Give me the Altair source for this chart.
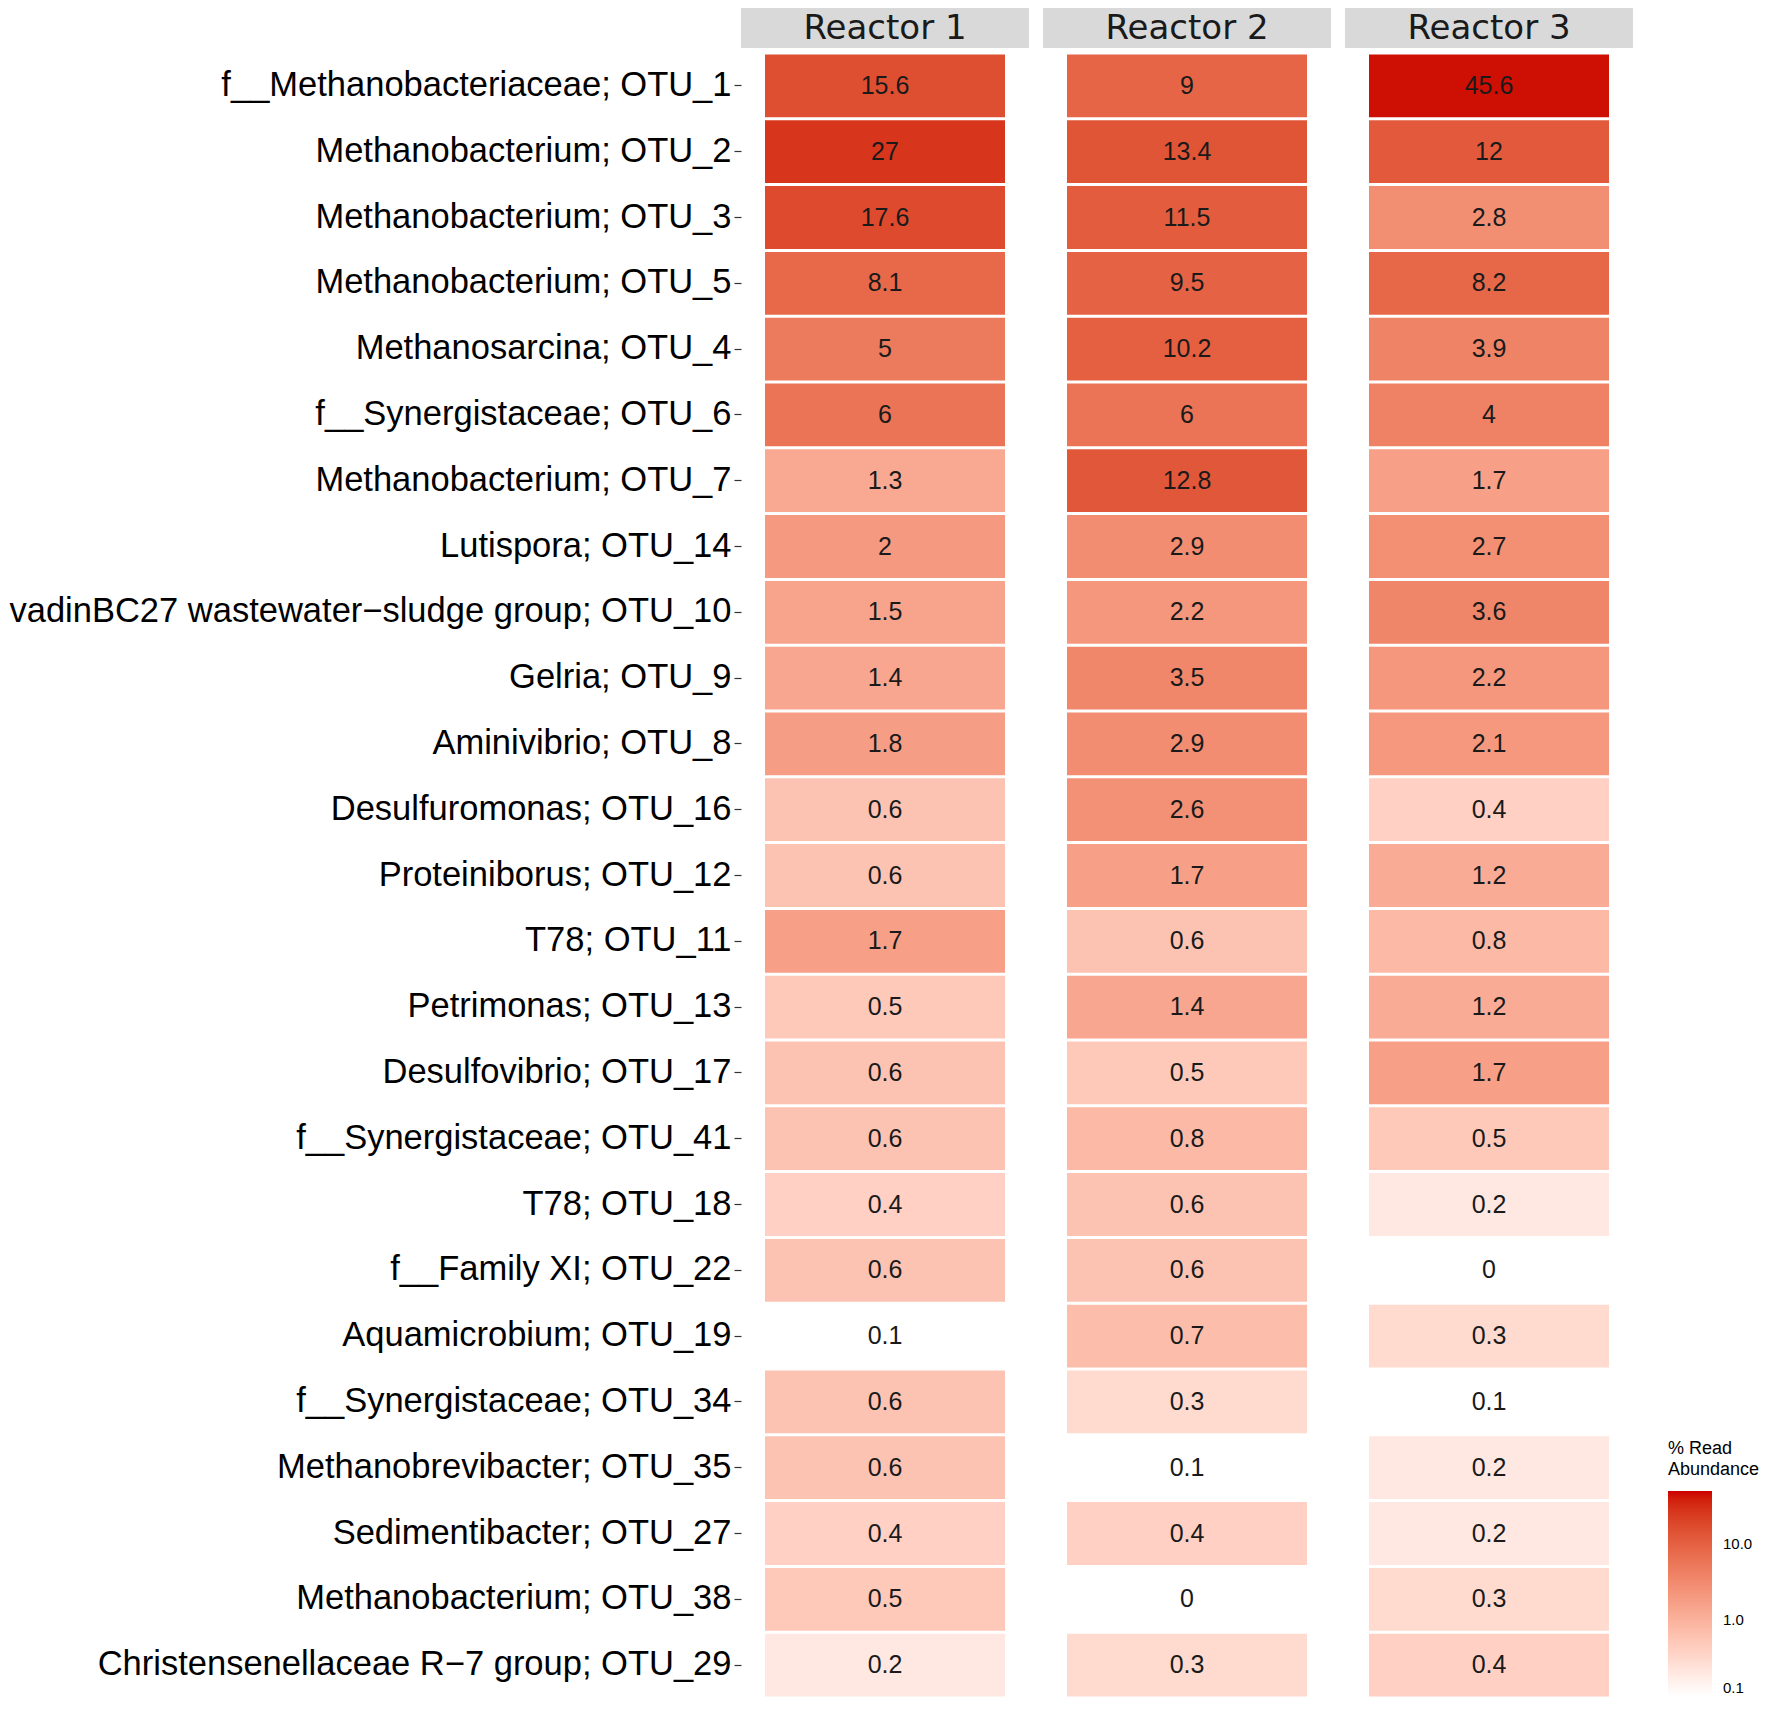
import altair as alt
import pandas as pd

otus = [
    "f__Methanobacteriaceae; OTU_1",
    "Methanobacterium; OTU_2",
    "Methanobacterium; OTU_3",
    "Methanobacterium; OTU_5",
    "Methanosarcina; OTU_4",
    "f__Synergistaceae; OTU_6",
    "Methanobacterium; OTU_7",
    "Lutispora; OTU_14",
    "vadinBC27 wastewater\u2212sludge group; OTU_10",
    "Gelria; OTU_9",
    "Aminivibrio; OTU_8",
    "Desulfuromonas; OTU_16",
    "Proteiniborus; OTU_12",
    "T78; OTU_11",
    "Petrimonas; OTU_13",
    "Desulfovibrio; OTU_17",
    "f__Synergistaceae; OTU_41",
    "T78; OTU_18",
    "f__Family XI; OTU_22",
    "Aquamicrobium; OTU_19",
    "f__Synergistaceae; OTU_34",
    "Methanobrevibacter; OTU_35",
    "Sedimentibacter; OTU_27",
    "Methanobacterium; OTU_38",
    "Christensenellaceae R\u22127 group; OTU_29",
]
reactors = ["Reactor 1", "Reactor 2", "Reactor 3"]
reactor1 = [15.6, 27, 17.6, 8.1, 5, 6, 1.3, 2, 1.5, 1.4, 1.8, 0.6, 0.6, 1.7, 0.5,
            0.6, 0.6, 0.4, 0.6, 0.1, 0.6, 0.6, 0.4, 0.5, 0.2]
reactor2 = [9, 13.4, 11.5, 9.5, 10.2, 6, 12.8, 2.9, 2.2, 3.5, 2.9, 2.6, 1.7, 0.6, 1.4,
            0.5, 0.8, 0.6, 0.6, 0.7, 0.3, 0.1, 0.4, 0, 0.3]
reactor3 = [45.6, 12, 2.8, 8.2, 3.9, 4, 1.7, 2.7, 3.6, 2.2, 2.1, 0.4, 1.2, 0.8, 1.2,
            1.7, 0.5, 0.2, 0, 0.3, 0.1, 0.2, 0.2, 0.3, 0.4]
legend_ticks = [0.1, 1, 10]

series = {"Reactor 1": reactor1, "Reactor 2": reactor2, "Reactor 3": reactor3}
rows = []
for r in reactors:
    for o, v in zip(otus, series[r]):
        rows.append({"reactor": r, "otu": o, "v": v})
df = pd.DataFrame(rows)

W = 288
H = 1645

color = alt.Color(
    "v:Q",
    scale=alt.Scale(type="log", domain=[0.1, 50], range=["#FFFFFF", "#CD0000"],
                    interpolate="lab", clamp=True),
    legend=alt.Legend(
        title=["% Read", "Abundance"],
        orient="none", legendX=927, legendY=1387,
        direction="vertical",
        gradientLength=205, gradientThickness=44, gradientStrokeWidth=0,
        values=legend_ticks, format=".1f",
        titleFont="Liberation Sans", titleFontSize=18, titleFontWeight="normal",
        titleColor="#000000", titleLineHeight=21, titlePadding=12,
        labelFont="Liberation Sans", labelFontSize=15, labelColor="#000000",
        labelOffset=11,
    ),
)


def panel(name, first):
    d = df[df["reactor"] == name]
    sdf = pd.DataFrame({"reactor": [name]})
    if first:
        yaxis = alt.Axis(
            labelFont="Liberation Sans", labelFontSize=34.5, labelColor="#000000",
            labelLimit=1000, labelPadding=3, ticks=True, tickSize=7,
            tickColor="#333333", tickWidth=1.2, domain=False, grid=False,
        )
    else:
        yaxis = None
    yenc = alt.Y("otu:N", sort=otus, title=None, axis=yaxis,
                 scale=alt.Scale(paddingInner=0.045, paddingOuter=0.0225))
    xenc = alt.X("reactor:N", title=None, axis=None,
                 scale=alt.Scale(paddingInner=0, paddingOuter=0.1))
    strip = alt.Chart(sdf).mark_rect(fill="#D9D9D9").encode(
        x=alt.value(0), x2=alt.value(W), y=alt.value(-45), y2=alt.value(-5)
    )
    strip_txt = alt.Chart(sdf).mark_text(
        font="DejaVu Sans", fontSize=34, color="#1A1A1A", baseline="middle"
    ).encode(x=alt.value(W / 2), y=alt.value(-24), text="reactor:N")
    tiles = alt.Chart(d).transform_filter("datum.v > 0").mark_rect().encode(
        x=xenc, y=yenc, color=color
    )
    labels = alt.Chart(d).mark_text(
        font="Liberation Sans", fontSize=25, color="#1A1A1A", baseline="middle"
    ).encode(x=xenc, y=yenc, text=alt.Text("v:Q", format=".1~f"))
    return alt.layer(strip, strip_txt, tiles, labels).properties(width=W, height=H)


chart = alt.hconcat(
    panel("Reactor 1", True), panel("Reactor 2", False), panel("Reactor 3", False),
    spacing=14,
).resolve_scale(color="shared").configure_view(stroke=None).properties(padding=0)

chart.save("out.html", embed_options={"renderer": "svg", "actions": False})
